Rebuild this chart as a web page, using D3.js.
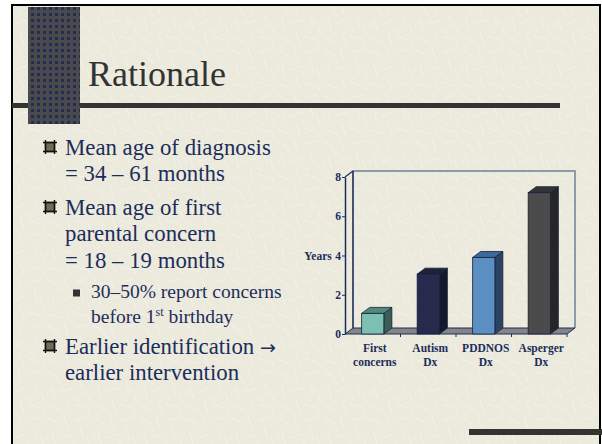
<!DOCTYPE html>
<html>
<head>
<meta charset="utf-8">
<script src="https://cdn.jsdelivr.net/npm/d3@7"></script>
<style>
  body { margin: 0; background: #fff; }
  svg text { font-family: "Liberation Serif", "Times New Roman", serif; }
</style>
</head>
<body>
<div id="slide"></div>
<script>
// chart data
const categories = [["First", "concerns"], ["Autism", "Dx"], ["PDDNOS", "Dx"], ["Asperger", "Dx"]];
const years = [1.05, 3.05, 3.9, 7.2];
const yTicks = [0, 2, 4, 6, 8];
const frontColors = ["#7cc0b1", "#262b4d", "#5b8fc4", "#4b4b4b"];
const topColors = ["#4f8a7c", "#1d2238", "#3e6896", "#333333"];
const sideColors = ["#3a5f57", "#141a2b", "#2c4462", "#262626"];

// slide text
const title = "Rationale";
const bullets = [
  { level: 1, y: 155, lines: ["Mean age of diagnosis", "= 34 \u2013 61 months"] },
  { level: 1, y: 215, lines: ["Mean age of first", "parental concern", "= 18 \u2013 19 months"] },
  { level: 2, y: 298, lines: ["30\u201350% report concerns", "before 1^st birthday"] },
  { level: 1, y: 354, lines: ["Earlier identification ~\u2192", "earlier intervention"] }
];

const w = 602, h = 444;
const navy = "#1d2d5a";

const svg = d3.select("#slide").append("svg")
  .attr("width", w)
  .attr("height", h);

const defs = svg.append("defs");

// faint scratchy paper texture
const paper = defs.append("pattern")
  .attr("id", "paper").attr("patternUnits", "userSpaceOnUse")
  .attr("width", 46).attr("height", 46);
paper.append("rect").attr("width", 46).attr("height", 46).attr("fill", "#ebeadd");
const strokes = [
  [2, 4, 12, 9], [18, 2, 22, 14], [30, 6, 42, 3], [6, 18, 9, 30], [14, 24, 26, 20],
  [34, 14, 38, 27], [40, 22, 45, 34], [3, 38, 15, 42], [20, 32, 24, 44], [28, 36, 40, 40],
  [10, 12, 16, 16], [26, 28, 33, 33], [42, 40, 44, 45], [1, 26, 4, 22]
];
paper.selectAll("line").data(strokes).enter().append("line")
  .attr("x1", d => d[0]).attr("y1", d => d[1])
  .attr("x2", d => d[2]).attr("y2", d => d[3])
  .attr("stroke", "#f2f2e8").attr("stroke-width", 1).attr("stroke-linecap", "round");

// dotted dark block texture
const dots = defs.append("pattern")
  .attr("id", "dots").attr("patternUnits", "userSpaceOnUse")
  .attr("width", 6).attr("height", 6);
dots.append("rect").attr("width", 6).attr("height", 6).attr("fill", "#4a4a4c");
dots.append("rect").attr("x", 1).attr("y", 1).attr("width", 3).attr("height", 3).attr("fill", "#232c52");

// slide background and frame
svg.append("rect").attr("x", 12).attr("y", 5).attr("width", 589).attr("height", 445).attr("fill", "url(#paper)");
svg.append("path").attr("d", "M12,450 V5 H600 V450")
  .attr("fill", "none").attr("stroke", "#000").attr("stroke-width", 2);
svg.append("rect").attr("x", 12).attr("y", 103).attr("width", 548).attr("height", 5).attr("fill", "#333");
svg.append("rect").attr("x", 28).attr("y", 7).attr("width", 52).attr("height", 117).attr("fill", "url(#dots)");
svg.append("rect").attr("x", 469).attr("y", 429).attr("width", 133).attr("height", 6).attr("fill", "#333");

svg.append("text").attr("x", 88).attr("y", 86)
  .attr("font-size", 36).attr("fill", "#333").text(title);

// bullet list
const list = svg.append("g");
bullets.forEach(b => {
  const lh = b.level === 1 ? 26.3 : 25;
  const tx = b.level === 1 ? 65 : 91;
  const fs = b.level === 1 ? 22.8 : 19.5;
  if (b.level === 1) {
    const cx = 50, cy = b.y - 8;
    list.append("rect").attr("x", cx - 4.5).attr("y", cy - 4.5).attr("width", 9).attr("height", 9)
      .attr("fill", "#6e6e55").attr("stroke", "#111").attr("stroke-width", 1.4);
    list.append("path")
      .attr("d", `M${cx - 7},${cy - 4.5}H${cx + 7}M${cx - 7},${cy + 4.5}H${cx + 7}M${cx - 4.5},${cy - 7}V${cy + 7}M${cx + 4.5},${cy - 7}V${cy + 7}`)
      .attr("stroke", "#111").attr("stroke-width", 1.4);
  } else {
    list.append("rect").attr("x", 73).attr("y", b.y - 8.5).attr("width", 7).attr("height", 7).attr("fill", "#333");
  }
  b.lines.forEach((line, i) => {
    const t = list.append("text").attr("x", tx).attr("y", b.y + i * lh)
      .attr("font-size", fs).attr("fill", navy);
    if (line.includes("^")) {
      const parts = line.split("^");
      const sup = parts[1].split(" ");
      t.append("tspan").text(parts[0]);
      t.append("tspan").attr("font-size", fs * 0.62).attr("dy", -7).text(sup[0]);
      t.append("tspan").attr("dy", 7).text(" " + sup.slice(1).join(" "));
    } else if (line.includes("~")) {
      const parts = line.split("~");
      t.append("tspan").text(parts[0]);
      t.append("tspan").style("font-family", "DejaVu Sans").attr("font-size", 19).text(parts[1]);
    } else {
      t.text(line);
    }
  });
});

// 3D column chart
const dx = 8, dy = -6;
const x = d3.scaleBand()
  .domain(categories.map(c => c.join(" ")))
  .range([345, 567])
  .paddingInner(0.6)
  .paddingOuter(0.3);
const y = d3.scaleLinear().domain([0, 8]).range([334, 177]);

const chart = svg.append("g");
const x0 = x.range()[0], x1 = x.range()[1];

// back wall
chart.append("path")
  .attr("d", `M${x0 + dx},${y(0) + dy}V${y(8) + dy}H${x1 + dx}V${y(0) + dy}`)
  .attr("fill", "none").attr("stroke", "#6d8294").attr("stroke-width", 1.5);
chart.append("line")
  .attr("x1", x0 + dx).attr("x2", x0 + dx).attr("y1", y(0) + dy).attr("y2", y(8) + dy)
  .attr("stroke", navy).attr("stroke-width", 1.3);
chart.append("line")
  .attr("x1", x0).attr("y1", y(8)).attr("x2", x0 + dx).attr("y2", y(8) + dy)
  .attr("stroke", navy).attr("stroke-width", 1.2);

// floor
chart.append("path")
  .attr("d", `M${x0},${y(0)}L${x1},${y(0)}L${x1 + dx},${y(0) + dy}L${x0 + dx},${y(0) + dy}Z`)
  .attr("fill", "#858585").attr("stroke", navy).attr("stroke-width", 1);

// category boundary ticks
const step = x.step();
chart.selectAll(".xtick").data(d3.range(1, categories.length + 1)).enter().append("line")
  .attr("x1", d => x0 + d * step).attr("x2", d => x0 + d * step)
  .attr("y1", y(0)).attr("y2", y(0) + 3)
  .attr("stroke", navy).attr("stroke-width", 1);

// y axis
const yAxis = chart.append("g")
  .attr("transform", `translate(${x0},0)`)
  .call(d3.axisLeft(y).tickValues(yTicks).tickSize(3).tickSizeOuter(0).tickPadding(1));
yAxis.select(".domain").attr("stroke", navy).attr("stroke-width", 1.5);
yAxis.selectAll(".tick line").attr("stroke", navy);
yAxis.selectAll(".tick text")
  .attr("font-weight", "bold").attr("font-size", 11.5).attr("fill", navy);

chart.append("text").attr("x", 318).attr("y", y(4) + 4)
  .attr("text-anchor", "middle").attr("font-weight", "bold").attr("font-size", 11.5)
  .attr("fill", navy).text("Years");

// bars
const bars = chart.selectAll(".bar").data(years).enter().append("g");
bars.append("path")
  .attr("d", (d, i) => {
    const bx = x(categories[i].join(" ")) + x.bandwidth();
    return `M${bx},${y(0)}L${bx + dx},${y(0) + dy}L${bx + dx},${y(d) + dy}L${bx},${y(d)}Z`;
  })
  .attr("fill", (d, i) => sideColors[i]).attr("stroke", "#15203d").attr("stroke-width", 0.8);
bars.append("path")
  .attr("d", (d, i) => {
    const bx = x(categories[i].join(" "));
    const bw = x.bandwidth();
    return `M${bx},${y(d)}L${bx + dx},${y(d) + dy}L${bx + bw + dx},${y(d) + dy}L${bx + bw},${y(d)}Z`;
  })
  .attr("fill", (d, i) => topColors[i]).attr("stroke", "#15203d").attr("stroke-width", 0.8);
bars.append("rect")
  .attr("x", (d, i) => x(categories[i].join(" ")))
  .attr("y", d => y(d))
  .attr("width", x.bandwidth())
  .attr("height", d => y(0) - y(d))
  .attr("fill", (d, i) => frontColors[i]).attr("stroke", "#15203d").attr("stroke-width", 0.8);

// category labels
const labels = chart.selectAll(".cat").data(categories).enter().append("text")
  .attr("text-anchor", "middle").attr("font-weight", "bold").attr("font-size", 11.5)
  .attr("fill", navy);
labels.selectAll("tspan").data((d, i) => d.map(t => ({ t, i }))).enter().append("tspan")
  .attr("x", d => x(categories[d.i].join(" ")) + x.bandwidth() / 2 + 2)
  .attr("y", (d, j) => 352 + j * 13.5)
  .text(d => d.t);
</script>
</body>
</html>
